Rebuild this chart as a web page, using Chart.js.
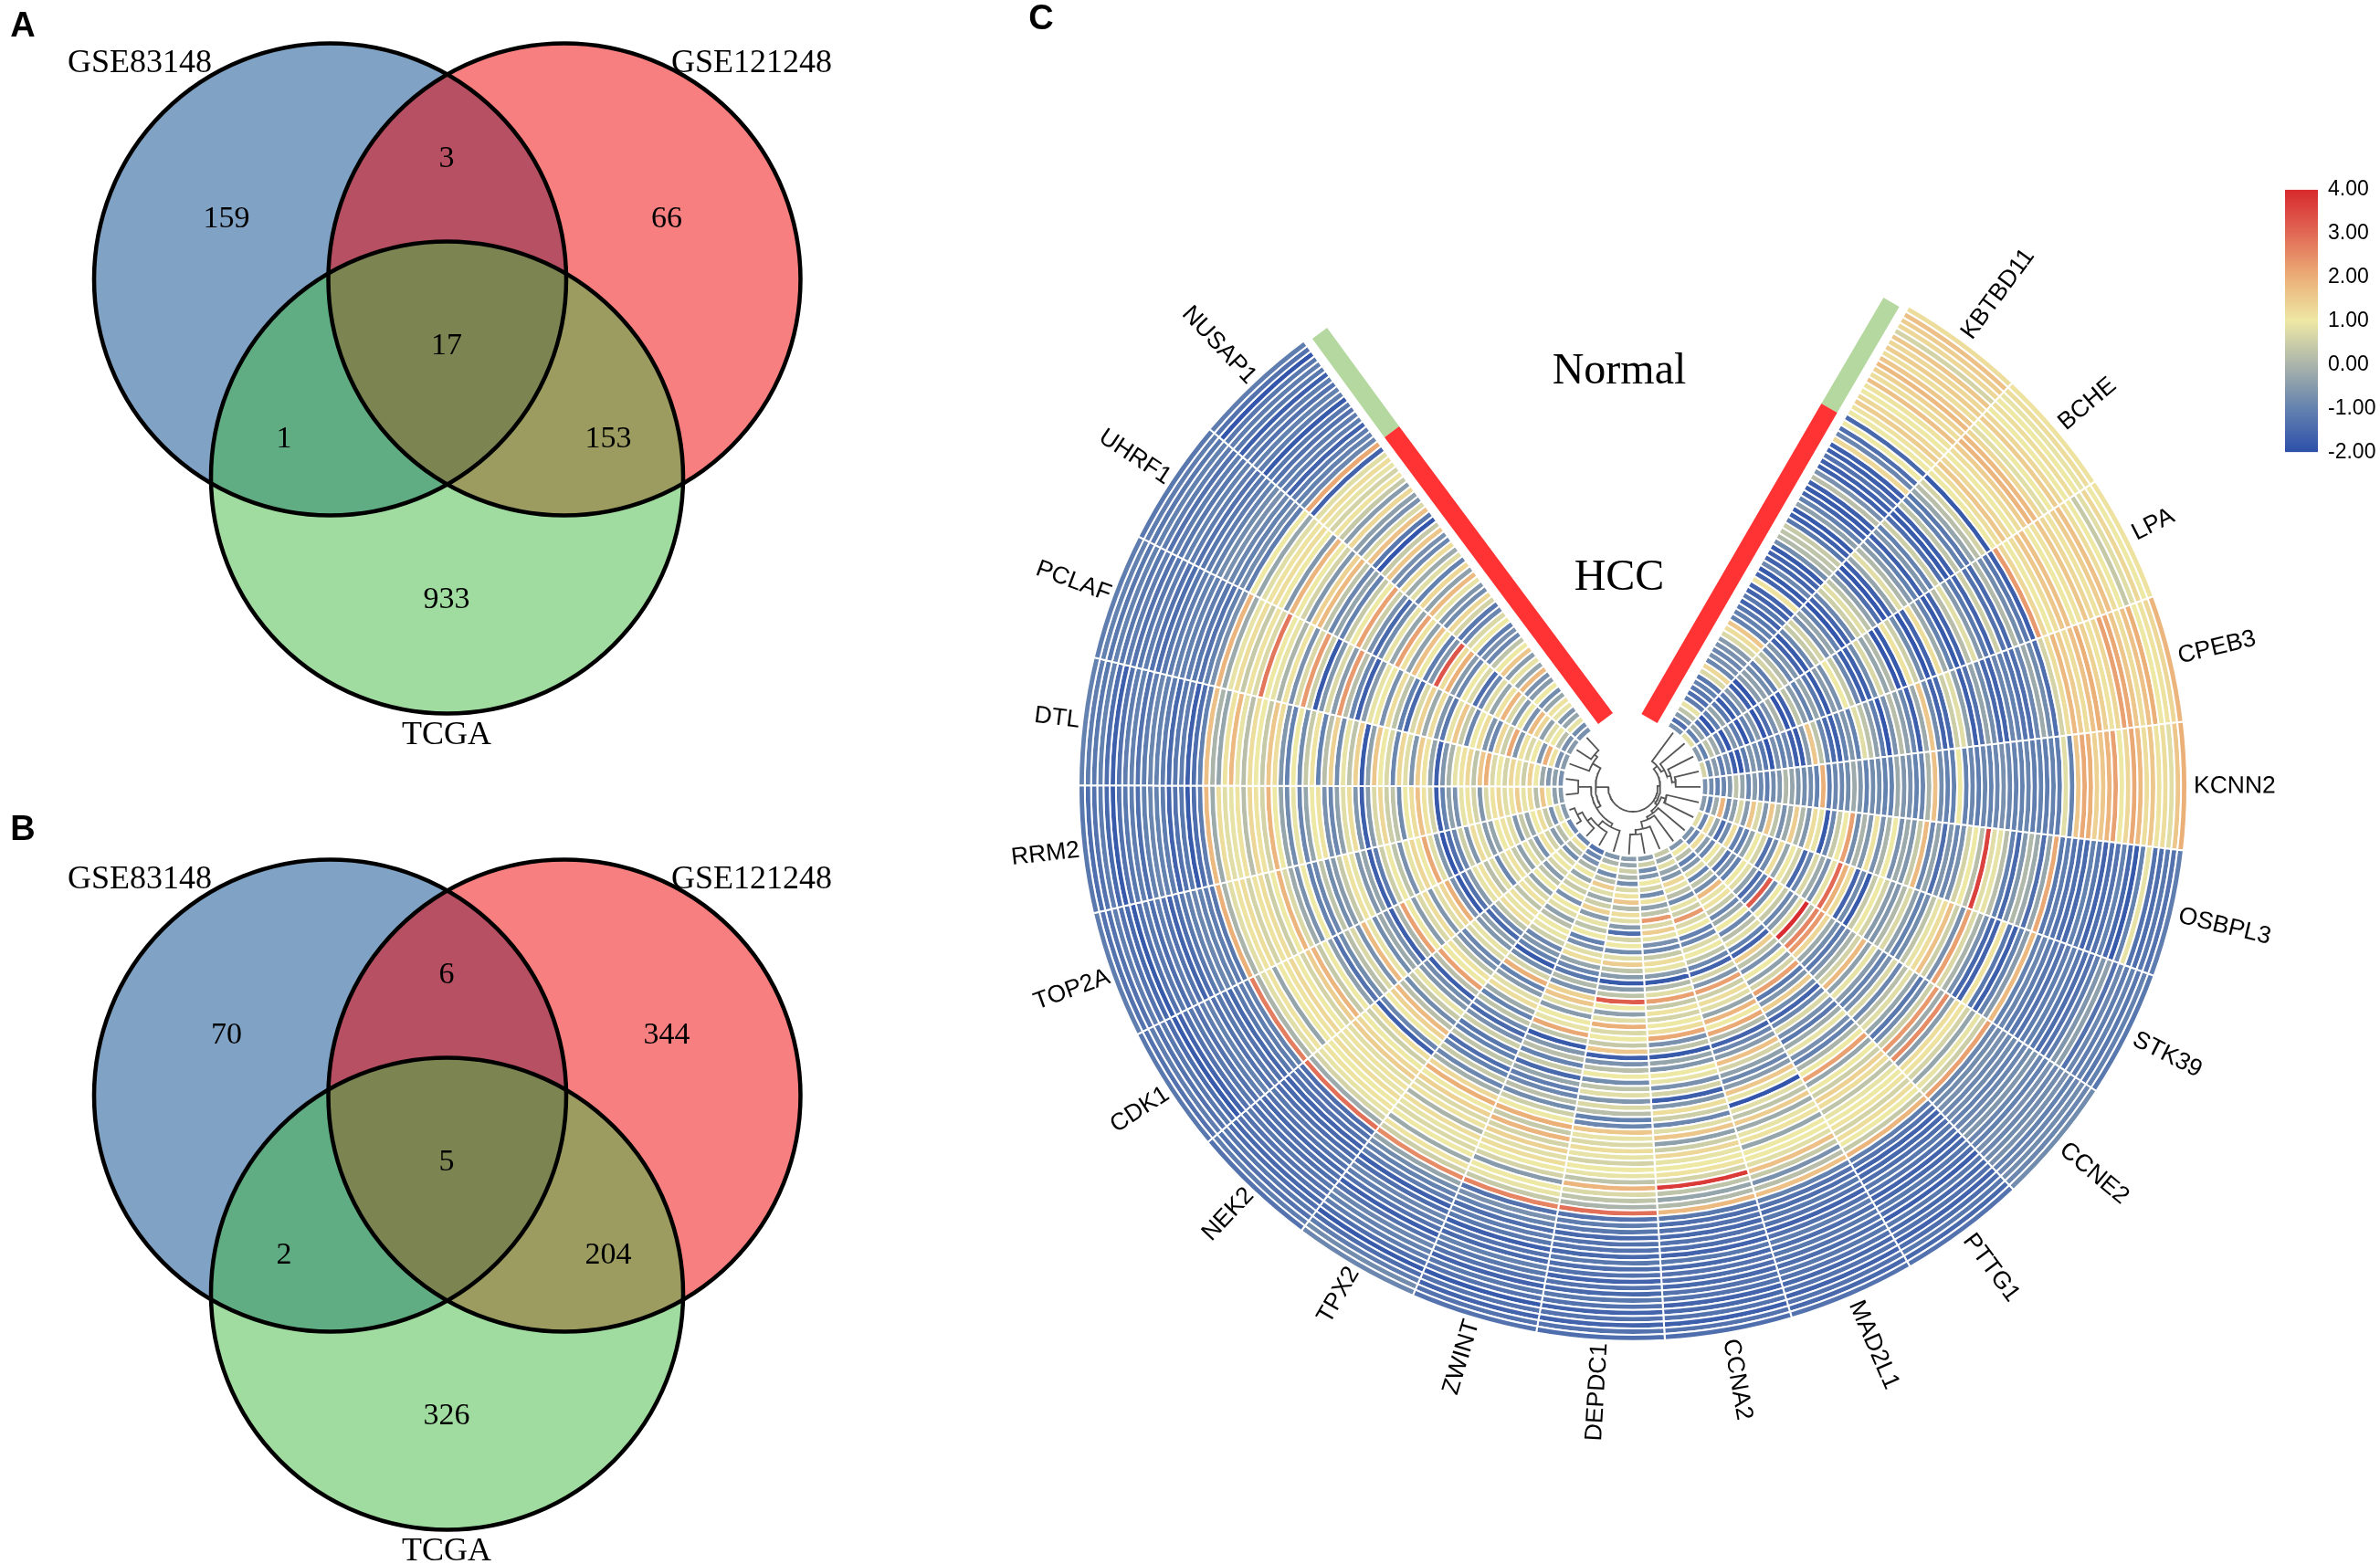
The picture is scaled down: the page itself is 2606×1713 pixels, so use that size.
<!DOCTYPE html>
<html>
<head>
<meta charset="utf-8">
<title>Venn diagrams and circular heatmap</title>
<script src="https://cdn.jsdelivr.net/npm/chart.js@4/dist/chart.umd.min.js"></script>
<style>
  html, body { margin: 0; padding: 0; background: #fff; width: 2606px; height: 1713px; overflow: hidden; }
  canvas { position: absolute; display: block; }
</style>
</head>
<body>
<canvas id="vennA" width="950" height="850" style="left:0;top:0"></canvas>
<canvas id="vennB" width="950" height="853" style="left:0;top:860px"></canvas>
<canvas id="heat" width="1240" height="1180" style="left:1168px;top:312px"></canvas>
<canvas id="overlay" width="1506" height="1713" style="left:1100px;top:0"></canvas>
<canvas id="colorbar" width="104" height="337" style="left:2502px;top:183px"></canvas>
<script>
// ================= VENN DATA =================
const vennNames = ["GSE83148", "GSE121248", "TCGA"];
const vennCountsA = [159, 3, 66, 1, 17, 153, 933];
const vennCountsB = [70, 6, 344, 2, 5, 204, 326];
const vennCountX = [248, 489, 730, 311, 489, 666, 489];
const vennCountY = [240, 174, 240, 481, 379, 481, 657];
const circleX = [361.5, 618, 489.5];
const circleY = [306, 306, 523];
const circleR = 258.5;

// ================= HEATMAP DATA (outer ring first, 20 Normal + 58 HCC) =================
const genes = ["KBTBD11","BCHE","LPA","CPEB3","KCNN2","OSBPL3","STK39","CCNE2","PTTG1","MAD2L1","CCNA2","DEPDC1","ZWINT","TPX2","NEK2","CDK1","TOP2A","RRM2","DTL","PCLAF","UHRF1","NUSAP1"];
const KBTBD11 = [1.2,1.7,1.5,1.3,0.6,1.6,1.3,1.5,1.2,1.6,1.8,1.4,1.2,1.7,1.1,1.0,1.3,1.5,1.1,1.0, -1.5,1.0,-1.4,-0.9,1.3,-1.7,-1.7,-1.3,-1.7,-1.7,-0.7,0.2,-1.7,-1.8,-1.6,-1,-0.4,-1.8,-1.7,-1.2,0.4,0.3,0.1,-0.8,-1.8,-1.6,-1.6,-0.9,-1.8,-1.6,1.1,-1.6,-1.6,-1.2,-1.6,-1.2,-1.0,-1.0,1.6,1.2,0.7,-0.5,-0.7,-0.9,-0.7,-0.9,1.3,0.7,-1.2,-1.0,-1.2,-1.4,-1.1,0.9,0.3,-0.6,-1.4,-0.7];
const BCHE = [1.1,1.2,0.9,1.0,1.2,1.0,1.3,1.5,1.0,0.8,1.3,1.8,1.9,1.5,1.2,1.0,1.3,1.6,1.2,1.0, -1.8,0.6,0.2,-0.3,-1.2,-1.0,0.3,-1.7,-1.8,-1.4,0.5,-1.0,-0.6,-1.7,-1.0,-0.5,0.1,0.8,-0.3,-1.7,-1.9,-1.4,-0.4,0.3,0.8,0.5,-0.9,-1.6,-1.9,-1.0,-0.3,-0.7,0.6,0.4,-0.9,-1.8,-1.6,-0.6,-0.9,0.2,0.6,-1.1,-0.8,-0.4,-0.5,-1.9,-1.7,-0.5,-1.2,-1.8,-1.2,-0.3,-1.1,-1.9,-1.3,-0.3,-1.0,0.8];
const LPA = [1.1,1.0,1.3,0.8,0.4,1.0,1.2,1.7,1.5,1.1,1.3,1.6,1.1,1.0,1.7,1.6,1.2,1.0,1.3,2.3, -1.7,-1.2,-0.8,0.1,-1.5,-1.3,0.5,-1.6,-1.2,-0.5,0.8,0.2,-1.6,-1.8,-1.0,-0.2,1.2,-1.6,-1.9,-0.8,0.5,1.1,-1.8,-1.9,0.1,-0.3,0.7,-0.8,-1.7,-1.7,-0.9,0.4,1.0,-0.7,-0.5,-1.8,-1.2,-0.3,-1,-0.5,0.3,-1.7,-1.9,0.0,-0.7,-1.4,-1.9,-0.5,-1.0,-1.9,-1.1,-0.6,-1.9,-1.1,-0.2,0.3,-1.0,-0.5];
const CPEB3 = [1.9,1.3,1.1,1.0,2.0,1.7,1.2,1.6,2.1,2.2,1.3,1.1,1.4,2.0,1.7,1.2,1.5,1.8,1.2,0.6, -1.4,-0.8,-0.2,-0.9,-1.4,-1.3,-1.0,-0.9,-1.6,-1.5,-0.8,-0.3,-1.3,-1.7,-0.4,0.8,0.5,-1.5,-1.6,-0.8,1.6,-0.2,-1.7,-0.9,-0.4,0.2,-0.7,-1.9,-1.1,-0.4,0.3,0.8,-1.0,-0.6,-1.0,-1.7,-1.5,-0.9,0.3,1.6,-0.5,-1.8,-1.7,-0.9,-1.0,-0.7,-1.9,-1.2,-0.8,-0.6,-1.1,-1.9,-1.7,-0.8,-1.1,-0.5,-0.8,0.6];
const KCNN2 = [2.0,1.6,0.8,1.2,1.1,1.6,1.2,1.8,2.1,1.3,1.0,2.2,1.9,1.6,1.4,2.0,2.1,1.6,-1.0,0.8, -1.1,-1.0,-1.1,-1.0,-1.1,-0.9,-1.0,-1.0,-0.9,-0.7,-0.9,-1,-0.9,-1.1,-0.9,-1.0,1.0,-1.0,-1.0,-0.8,1.7,0.0,-0.9,-1.0,-0.7,-0.6,-0.2,-1.0,-1,-0.8,-0.8,-1,-0.6,-0.2,-0.8,-0.9,-0.9,-1.1,2.0,-1.0,-0.8,-0.8,-0.6,-0.3,0.1,-0.6,-0.8,-1.1,-0.9,-0.5,-0.9,-0.3,0.3,-0.6,-0.9,-1,-0.8,-0.7];
const OSBPL3 = [-1.1,-1.3,-1.2,-1.4,-1.3,0.9,-1.0,-1.8,-1.5,-1.0,-1.3,-1.4,-1.6,-1.2,-1.0,-1.5,-1.4,-1.3,-1.1,-1.2, 2.1,-0.3,-1.4,-0.2,0.1,-0.6,-1.5,-1.0,0.2,0.9,0.8,3.6,0.2,1.0,0.6,-0.7,-0.9,-0.6,-1.4,-0.3,-0.9,1.8,0.4,-0.6,-0.2,-0.7,1.0,0.0,-0.7,1.1,-0.6,0.0,-0.8,2.2,1.0,0.4,-0.9,-1.8,0.9,1.2,-0.6,0.1,1.5,-0.2,-0.7,0.3,1.6,-0.6,0.7,1.6,-0.5,0.7,-0.4,-0.8,1.9,-0.2,-1.0,-0.5];
const STK39 = [-1.2,-1.0,-1.2,-1.0,-1.1,-0.9,-1.3,-0.4,-0.6,-1.1,-1.3,-1.4,-1.2,-1.0,-1.1,-1.3,-1.2,-1.1,-0.9,-1.0, 1.8,-0.5,-1,-1.7,-1.2,1.1,-1.6,-1.5,-0.7,0.0,0.7,2.2,-0.7,0.5,1.7,1.2,0.9,0.3,-0.8,-1.0,-0.4,0.7,0.1,-0.6,-0.5,0.6,1.0,0.4,-1.8,-0.8,-1.6,1.2,2.0,3.0,0.9,-0.7,-0.2,0.7,-0.9,-1.5,0.6,1.0,-0.3,1.2,-0.8,-1.3,0.6,1.0,-0.3,-1.0,-1.0,1.2,-0.8,-1.4,-0.3,1.2,-0.9,0.8];
const CCNE2 = [-0.8,-0.9,-0.8,-0.9,-1.0,-0.7,-0.8,-0.9,-0.7,-1.0,-0.9,-0.6,-0.8,-0.9,-1.0,-0.8,-0.9,-0.7,-0.8,-0.9, 2.2,0.5,0.9,-0.3,0.6,1.1,1.2,-0.5,2.5,-0.2,2.3,0.5,-0.8,-1.2,-0.3,0.8,0.2,-0.9,0.7,-0.7,-1.0,-0.5,0.9,-0.4,1.8,0.6,0.0,-0.7,-1.2,-0.8,-0.2,1.3,2.3,2.6,0.2,3.9,0.8,-0.5,-0.9,0.4,1.0,-0.8,3.2,-1.0,-1.4,-0.4,0.8,1.0,-1.0,-0.7,-1.3,0.5,1.0,-0.9,-0.5,1.2,-0.9,-0.6];
const PTTG1 = [-1.3,-1.5,-1.2,-1.4,-1.6,-1.3,-1.5,-1.2,-1.7,-1.4,-1.2,-1.5,-1.6,-1.3,-1.2,-1.4,-1.5,-1.6,-1.3,-1.1, 1.9,0.4,1.0,1.2,0.6,1.1,1.0,0.9,0.3,1.2,1.4,0.5,1.0,-0.3,2.2,1.0,0.0,-1,-0.7,0.9,-0.2,-1.2,-0.7,0.7,-0.9,-1.6,-0.8,1.5,-0.6,-1.2,2.2,0.6,-0.4,1.0,-0.7,0.3,1.5,-1.6,-1.0,0.8,0.2,-0.9,1.0,-0.2,-0.9,0.4,1.1,0.9,1.8,-0.8,0.3,-1.0,0.8,-0.6,-1.0,0.2,1.0,-0.6];
const MAD2L1 = [-1.3,-1.5,-1.3,-1.6,-1.3,-1.5,-1.3,-1.2,-1.4,-1.3,-1.2,-1.4,-1.1,-1.3,-1.6,-1.3,-1.2,-1.4,-1.3,-1.0, 1.7,0.2,-0.7,0.4,1.7,0.8,1.0,1.0,-0.3,1.1,0.9,-0.2,1.5,0.3,0.8,-1.9,0.9,1.6,-0.5,-0.9,-0.4,0.6,1.7,-0.5,-0.9,-1.6,0.1,2.1,1.0,1.9,-0.3,0.8,1.2,0.5,2.2,-0.6,0.6,-1.6,-0.9,0.3,1.0,0.7,-0.9,-1,1.0,0.7,2.3,0.5,0.9,-0.8,0.2,0.9,1.3,-0.6,-0.3,0.8,-0.3,0.4];
const CCNA2 = [-1.4,-1.3,-1.7,-1.3,-1.5,-1.6,-1.3,-1.3,-1.5,-1.4,-1.3,-1.5,-1.2,-1.6,-1.4,-1.3,-1.5,-1.3,-1.4,-1.2, 1.8,0.1,-0.3,0.3,3.7,0.6,1.1,1.0,0.9,1.3,0.5,-0.4,1.6,0.8,-0.9,0.5,1.2,-0.6,-1.7,0.6,-0.7,0.9,1.0,-0.6,-0.3,-1.8,0.3,-0.7,2.1,1.2,1.0,0.6,1.1,0.4,2.2,0.8,0.1,-1.8,-0.5,0.9,1.2,0.4,-0.9,-0.7,0.9,1.5,0.7,2.3,0.3,-0.4,1.1,-0.8,0.6,1.0,-0.6,-0.8,0.5,-0.5];
const DEPDC1 = [-1.4,-1.3,-1.6,-1.3,-1.6,-1.3,-1.2,-1.5,-1.3,-1.6,-1.3,-1.4,-1.2,-1.5,-1.3,-1.3,-1.5,-1.2,-1.1,-1.3, 2.9,0.0,0.3,0.7,1.9,0.3,0.9,1.0,0.6,0.9,1.2,0.7,0.9,1.6,-0.9,-1.0,0.2,0.7,-0.6,0.8,0.3,-0.8,1.0,0.2,-0.7,-1.7,1.6,0.4,1.0,0.7,2.0,0.8,-0.4,1.0,3.2,0.3,-0.5,-1.8,-0.5,0.3,1.5,0.8,-0.8,1.0,0.6,-1.4,-0.5,0.8,1.2,0.1,1.6,1.1,0.7,-0.8,0.0,0.5,-0.3,-0.5];
const ZWINT = [-1.3,-1.3,-1.6,-1.3,-1.8,-1.3,-1.2,-1.6,-1.3,-1.2,-1.0,-1.5,-1.3,-1.7,-1.2,-1.1,-1.4,-1.0,-0.7,-1.3, 2.6,0.4,0.9,1.0,-0.5,0.6,1.0,1.2,0.8,1.4,0.6,1.9,0.4,2.0,1.0,0.5,-0.8,0.2,-0.9,-1.1,-0.3,-1.5,0.4,-1.0,0.2,-0.6,-1.8,0.3,2.1,0.9,1.0,-0.5,0.8,1.6,1.4,-0.7,0.1,-1.2,-0.9,-0.3,1.2,0.8,-0.7,-1,1.0,0.3,0.9,-0.5,1.4,0.5,-0.2,0.8,1.5,0.2,-0.8,1.0,0.0,-0.6];
const TPX2 = [-0.9,-0.8,-1.1,-1.4,-1.8,-1.4,-1.1,-1.0,-0.9,-1.3,-1.7,-1.3,-1.1,-0.9,-1.4,-1.7,-1.1,-1.0,-0.8,-0.3, 2.5,0.5,1.1,-0.2,1.0,0.7,0.9,1.2,0.0,1.1,0.7,1.4,1.0,2.0,1.3,-0.1,-0.9,0.4,-1.0,-1.4,0.3,-1.0,-1.2,0.5,-0.7,-1.5,-0.9,0.3,-1.0,-0.2,1.2,0.8,-0.5,-1.0,2.0,0.6,-0.8,-1.8,-1.0,-0.6,-0.9,0.5,0.9,1.0,0.2,-0.4,0.8,1.0,-0.7,1.0,0.4,0.9,-0.3,1.0,0.0,-0.7,-0.9,-1.3];
const NEK2 = [-1.3,-1.1,-1.3,-1.2,-1.4,-1.5,-1.3,-1.3,-1.2,-1.4,-1.3,-1.5,-1.3,-1.2,-1.4,-1.5,-1.6,-1.3,-1.3,-1.4, 2.9,-0.2,0.6,0.9,1.1,1.0,1.2,0.9,1.1,0.8,1.5,1.3,1.0,0.5,1.2,-1.7,-0.9,1.0,1.4,1.8,0.2,-0.8,0.4,0.9,-0.6,-0.8,-1.7,0.2,2.2,1.0,1.1,0.3,-0.7,-0.9,0.7,0.9,-0.6,-0.4,-1.5,-0.9,0.3,1.2,0.9,1.1,0.3,1.1,0.7,-0.4,1.0,0.3,-0.5,0.6,1.0,0.7,-0.8,0.2,1.1,-0.9];
const CDK1 = [-1.2,-1.3,-1.1,-1.3,-1.2,-1.4,-1.8,-1.6,-1.3,-1.2,-1.3,-1.1,-1.0,-1.3,-1.2,-1.3,-1.5,-1.2,-1.1,-1.0, 2.7,0.0,0.8,1.1,-0.3,1.0,1.1,1.3,1.0,0.6,1.5,1.9,0.4,1.0,-0.4,-1.3,-0.8,0.2,0.7,-0.7,1.8,0.9,-0.8,-0.2,-0.7,-1.7,0.0,2.2,1.0,-0.5,0.7,1.2,-0.6,0.8,1.3,2.0,-0.7,-1.8,-1.3,-0.5,0.9,1.1,0.2,0.8,-0.9,0.7,1.1,0.4,-0.4,0.9,0.3,-0.7,1.1,0.6,-0.5,0.2,1.0,-0.9];
const TOP2A = [-1.1,-1.3,-1.3,-1.1,-1.3,-1.5,-1.8,-1.3,-1.2,-1.4,-1.1,-1.3,-1.6,-1.4,-1.2,-1.0,-0.9,-1.0,-1.1,-1.2, 2.0,0.0,0.8,1.1,1.2,0.6,1.1,1.2,0.5,1.0,1.9,0.7,-0.2,-0.7,1.0,-1.0,-0.9,0.3,-0.8,-0.5,0.4,1.1,0.9,-0.6,-0.3,-1.7,-1.1,0.5,1.0,0.3,-0.7,0.9,1.3,1.0,2.1,0.8,-0.6,-1.9,-1.4,-0.9,0.5,-0.6,1.2,0.8,-0.5,-0.3,1.0,1.1,0.8,-0.6,0.4,-0.3,1.0,1.2,0.4,-0.7,0.8,-0.5];
const RRM2 = [-1.2,-1.4,-1.3,-1.1,-1.5,-1.8,-1.3,-1.2,-1.1,-1.4,-1.0,-0.9,-1.0,-1.1,-1.6,-1.3,-1.2,-1.8,-1.4,-1.1, 1.8,-0.2,1.2,0.8,0.9,1.1,0.2,1.3,1.1,0.6,1.9,1.0,-0.3,-0.8,0.9,-0.9,-0.3,1.0,1.1,-0.7,-0.9,-0.4,0.8,1.2,-0.6,-1.7,-0.5,0.7,1.3,0.5,0.3,-0.8,1.0,1.2,1.7,1.1,0.6,-1.8,-1.0,-0.4,-0.7,0.9,1.1,0.6,-0.6,0.7,1.1,1.3,0.8,1.1,1.5,0.9,1.2,0.2,1.6,1.0,-0.4,-0.5];
const DTL = [-1.0,-1.1,-1.2,-1.0,-1.4,-1.7,-1.3,-1.1,-1.0,-1.3,-1.1,-0.9,-1.0,-1.1,-1.5,-1.2,-1.1,-1.7,-1.4,-1.0, 1.7,0.0,-0.3,1.1,1.8,0.9,0.2,1.2,1.0,0.4,1.6,1.2,-0.6,-1.0,1.0,-0.8,0.4,1.1,-1.0,0.2,1.4,-0.8,0.9,0.3,1.4,-1.8,-0.4,1.6,1.0,0.7,-0.9,1.3,0.8,-0.6,1.5,1.1,-0.3,-1.7,-0.6,0.0,0.9,1.1,1.3,0.3,1.6,2.0,0.7,1.0,0.6,1.3,1.1,0.5,1.4,1.0,-0.2,-0.6,-0.4,-0.7];
const PCLAF = [-1.1,-1.0,-1.2,-1.0,-1.2,-1.1,-1.3,-1.2,-1.1,-1.3,-1.4,-1.2,-1.1,-1.0,-1.0,-1.1,-1.2,-1.3,-1.0,-0.7, 1.9,-0.2,0.9,1.2,0.4,1.1,0.7,2.8,1.0,0.9,0.0,1.1,-0.7,0.7,2.3,0.5,-1.8,-0.6,0.7,-0.5,2.3,0.2,-0.9,-1.7,-0.5,0.9,1.0,-0.7,1.2,0.3,-1.0,-1.5,0.7,1.4,-0.2,1.2,-0.6,-1.2,0.9,1.6,0.4,-0.9,1.0,1.2,-0.6,-0.9,1.3,0.5,2.1,-0.6,1.1,0.7,1.0,-0.6,2.0,1.1,-0.7,-0.5];
const UHRF1 = [-1.2,-1.1,-1.2,-1.0,-1.1,-1.3,-1.1,-1.2,-1.0,-1.1,-1.3,-1.2,-1.1,-1.0,-0.8,-0.7,-0.9,-1.0,-0.8,-1.1, 1.0,-0.3,0.8,1.1,1.2,1.0,-0.6,1.9,1.0,0.6,-0.6,1.4,1.8,0.3,-0.9,-0.3,-1.0,0.4,1.0,2.2,0.5,-0.7,-1.5,-0.8,0.9,-0.3,2.2,1.1,-0.4,1.7,1.0,-1.1,-0.6,3.3,1.2,2.0,-0.5,-0.9,1.0,0.7,-1.4,-0.9,0.8,-0.3,1.1,1.9,0.7,-0.6,1.0,-0.7,1.8,1.3,-0.4,0.8,1.0,0.2,-0.7,-0.5];
const NUSAP1 = [-1.1,-1.3,-1.9,-1.2,-1.1,-1.2,-1.7,-1.1,-1.3,-1.0,-1.1,-1.8,-1.2,-1.3,-1.1,-1.1,-1.6,-1.1,-1.0,-0.9, 2.1,-1.6,0.8,1.2,0.9,0.6,1.1,0.4,-0.5,1.3,-0.4,-0.7,0.7,1.7,-1.2,-1.9,0.4,1.6,-0.7,-0.9,1.2,-0.2,0.8,-1.0,1.3,-0.4,1.8,0.9,-0.6,-0.8,1.3,0.6,-1.2,-0.9,0.7,1.0,-1.1,-0.7,-0.9,0.3,1.0,1.6,-0.5,0.9,-0.3,1.8,-0.7,-0.5,1.0,-0.8,-0.3,1.1,0.9,-0.6,-0.3,0.9,-0.8,-0.7];
const geneRows = [KBTBD11,BCHE,LPA,CPEB3,KCNN2,OSBPL3,STK39,CCNE2,PTTG1,MAD2L1,CCNA2,DEPDC1,ZWINT,TPX2,NEK2,CDK1,TOP2A,RRM2,DTL,PCLAF,UHRF1,NUSAP1];
const ringCount = 78;

// dendrogram merges: [child, child, height]; ids above 21 are earlier merges
const treeMerges = [[3,4,47],[2,22,43],[1,23,39],[0,24,35],[5,6,38],[10,11,52],[9,27,47],[8,28,39],[7,29,36],[26,30,33],[25,31,30],[15,16,68],[14,33,62],[13,34,57],[12,35,50],[17,18,60],[20,21,55],[19,38,51],[37,36,46],[39,40,41],[41,32,27]];

// annotation track ends, [x, y] from the circle centre
const normalBarRight = [[215,415],[283,531]];
const hccBarRight = [[18,75],[215,415]];
const normalBarLeft = [[-264,389],[-343,497]];
const hccBarLeft = [[-30,75],[-264,389]];

// ================= COLOUR SCALE =================
const scaleTicks = [-2, -1, 0, 1, 2, 3, 4];
const scaleColors = [[45,80,170],[100,130,175],[170,180,170],[238,232,165],[235,175,120],[225,105,85],[215,40,45]];

function colorFor(v) {
    const t = Math.min(Math.max(v + 2, 0), 5.999);
    const i = Math.floor(t), f = t - i;
    const a = scaleColors[i], b = scaleColors[i + 1];
    return `rgb(${a.map((c, k) => Math.round(c + (b[k] - c) * f)).join(",")})`;
}

// ================= TEXT PLUGIN =================
const textMarks = {
    id: "textMarks",
    afterDraw(chart, args, opts) {
        const { ctx, scales } = chart;
        (opts.items || []).forEach(t => {
            ctx.save();
            ctx.translate(scales.x.getPixelForValue(t.x), scales.y.getPixelForValue(t.y));
            ctx.rotate(t.rot || 0);
            ctx.font = t.font;
            ctx.fillStyle = "#000";
            ctx.textAlign = t.align || "center";
            ctx.textBaseline = "middle";
            ctx.fillText(t.text, 0, 0);
            ctx.restore();
        });
    }
};
Chart.register(textMarks);
Chart.defaults.font.family = '"Liberation Sans", Arial, sans-serif';
Chart.defaults.devicePixelRatio = 1;
Chart.defaults.animation = false;

const baseOpts = {
    responsive: false,
    maintainAspectRatio: false,
    events: [],
    layout: { padding: 0, autoPadding: false }
};

// ================= VENN =================
function drawVenn(id, letter, letterY, counts, minY, maxY) {
    const serif = '34px "Liberation Serif", "Times New Roman", serif';
    const nameFont = '36px "Liberation Serif", "Times New Roman", serif';
    const items = [
        { x: 25, y: letterY, text: letter, font: 'bold 38px "Liberation Sans", Arial, sans-serif' },
        { x: 153, y: 70, text: vennNames[0], font: nameFont },
        { x: 823, y: 70, text: vennNames[1], font: nameFont },
        { x: 489, y: 806, text: vennNames[2], font: nameFont }
    ];
    counts.forEach((c, i) => items.push({ x: vennCountX[i], y: vennCountY[i], text: String(c), font: serif }));

    const fills = ["rgba(0,70,140,0.5)", "rgba(240,0,0,0.5)", "rgba(65,185,65,0.5)"];
    const datasets = circleX.map((x, i) => ({
        data: [{ x, y: circleY[i], r: circleR }],
        backgroundColor: fills[i],
        borderWidth: 0,
        order: 3 - i
    }));
    datasets.push({
        data: circleX.map((x, i) => ({ x, y: circleY[i], r: circleR })),
        backgroundColor: "rgba(0,0,0,0)",
        borderColor: "#000",
        borderWidth: 4.5,
        order: 0
    });

    new Chart(document.getElementById(id), {
        type: "bubble",
        data: { datasets },
        options: {
            ...baseOpts,
            clip: false,
            scales: {
                x: { type: "linear", display: false, min: 0, max: 950 },
                y: { type: "linear", display: false, min: minY, max: maxY, reverse: true }
            },
            plugins: { legend: { display: false }, tooltip: { enabled: false }, textMarks: { items } }
        }
    });
}
drawVenn("vennA", "A", 30, vennCountsA, 0, 850);
drawVenn("vennB", "B", 16, vennCountsB, -34, 819);

// ================= CIRCULAR HEATMAP =================
const startDeg = 29.85, sweepDeg = 293.7, sectorDeg = sweepDeg / genes.length;
const rings = [];
for (let r = 0; r < ringCount; r++) {
    rings.push({
        data: genes.map(() => 1),
        backgroundColor: geneRows.map(row => colorFor(row[r] === undefined ? 0 : row[r])),
        borderColor: "#fff",
        borderWidth: 2
    });
}
new Chart(document.getElementById("heat"), {
    type: "doughnut",
    data: { labels: genes, datasets: rings },
    options: {
        ...baseOpts,
        rotation: startDeg,
        circumference: sweepDeg,
        radius: 607,
        cutout: "12.5%",
        plugins: { legend: { display: false }, tooltip: { enabled: false } }
    }
});

// ================= OVERLAY: TRACK, TREE, LABELS =================
function leafAngle(i) { return (-60.15 + (i + 0.5) * sectorDeg) * Math.PI / 180; }
function polar(a, r) { return { x: r * Math.cos(a), y: -r * Math.sin(a) }; }

function treePoints() {
    const pts = [], nodes = [];
    const leafR = 74;
    genes.forEach((g, i) => nodes.push({ a: leafAngle(i), r: leafR }));
    treeMerges.forEach(([p, q, h]) => {
        const n1 = nodes[p], n2 = nodes[q];
        pts.push(polar(n1.a, n1.r));
        const steps = Math.max(2, Math.ceil(Math.abs(n2.a - n1.a) / 0.05));
        for (let s = 0; s <= steps; s++) pts.push(polar(n1.a + (n2.a - n1.a) * s / steps, h));
        pts.push(polar(n2.a, n2.r));
        pts.push({ x: NaN, y: NaN });
        nodes.push({ a: (n1.a + n2.a) / 2, r: h });
    });
    return pts;
}

function trackSet(ends, color) {
    return {
        data: ends.map(([x, y]) => ({ x, y })),
        showLine: true, borderColor: color, borderWidth: 20, pointRadius: 0, tension: 0
    };
}

const labelFont = '26.5px "Liberation Sans", Arial, sans-serif';
const overlayText = [
    { x: -648, y: 840, text: "C", font: 'bold 38px "Liberation Sans", Arial, sans-serif' },
    { x: -15, y: 455, text: "Normal", font: '48px "Liberation Serif", "Times New Roman", serif' },
    { x: -15, y: 229, text: "HCC", font: '48px "Liberation Serif", "Times New Roman", serif' }
];
genes.forEach((g, i) => {
    const a = leafAngle(i);
    const flip = Math.cos(a) < 0;
    const p = polar(a, flip ? 610 : 614);
    overlayText.push({ x: p.x, y: p.y, text: g, font: labelFont, rot: flip ? a - Math.PI : a, align: flip ? "right" : "left" });
});

new Chart(document.getElementById("overlay"), {
    type: "scatter",
    data: {
        datasets: [
            { data: treePoints(), showLine: true, borderColor: "#555", borderWidth: 1.8, pointRadius: 0, tension: 0, spanGaps: false },
            trackSet(hccBarRight, "#ff3333"),
            trackSet(normalBarRight, "#b5d8a0"),
            trackSet(hccBarLeft, "#ff3333"),
            trackSet(normalBarLeft, "#b5d8a0")
        ]
    },
    options: {
        ...baseOpts,
        scales: {
            x: { type: "linear", display: false, min: -688, max: 818 },
            y: { type: "linear", display: false, min: -851, max: 862 }
        },
        plugins: { legend: { display: false }, tooltip: { enabled: false }, textMarks: { items: overlayText } }
    }
});

// ================= COLOUR BAR =================
new Chart(document.getElementById("colorbar"), {
    type: "bar",
    data: {
        labels: [""],
        datasets: [{
            data: [[scaleTicks[0], scaleTicks[scaleTicks.length - 1]]],
            barPercentage: 1,
            categoryPercentage: 1,
            backgroundColor(c) {
                const area = c.chart.chartArea;
                if (!area) return "#888";
                const g = c.chart.ctx.createLinearGradient(0, area.bottom, 0, area.top);
                scaleTicks.forEach((t, i) => g.addColorStop(i / (scaleTicks.length - 1), colorFor(t)));
                return g;
            }
        }]
    },
    options: {
        ...baseOpts,
        layout: { padding: { top: 15, bottom: 15 }, autoPadding: false },
        scales: {
            x: { display: false },
            y: {
                position: "right",
                min: -2,
                max: 4,
                afterFit(s) { s.width = 68; },
                grid: { display: false, drawTicks: false },
                border: { display: false },
                ticks: {
                    stepSize: 1,
                    padding: 11,
                    color: "#000",
                    font: { size: 23 },
                    callback: v => v.toFixed(2)
                }
            }
        },
        plugins: { legend: { display: false }, tooltip: { enabled: false } }
    }
});
</script>
</body>
</html>
